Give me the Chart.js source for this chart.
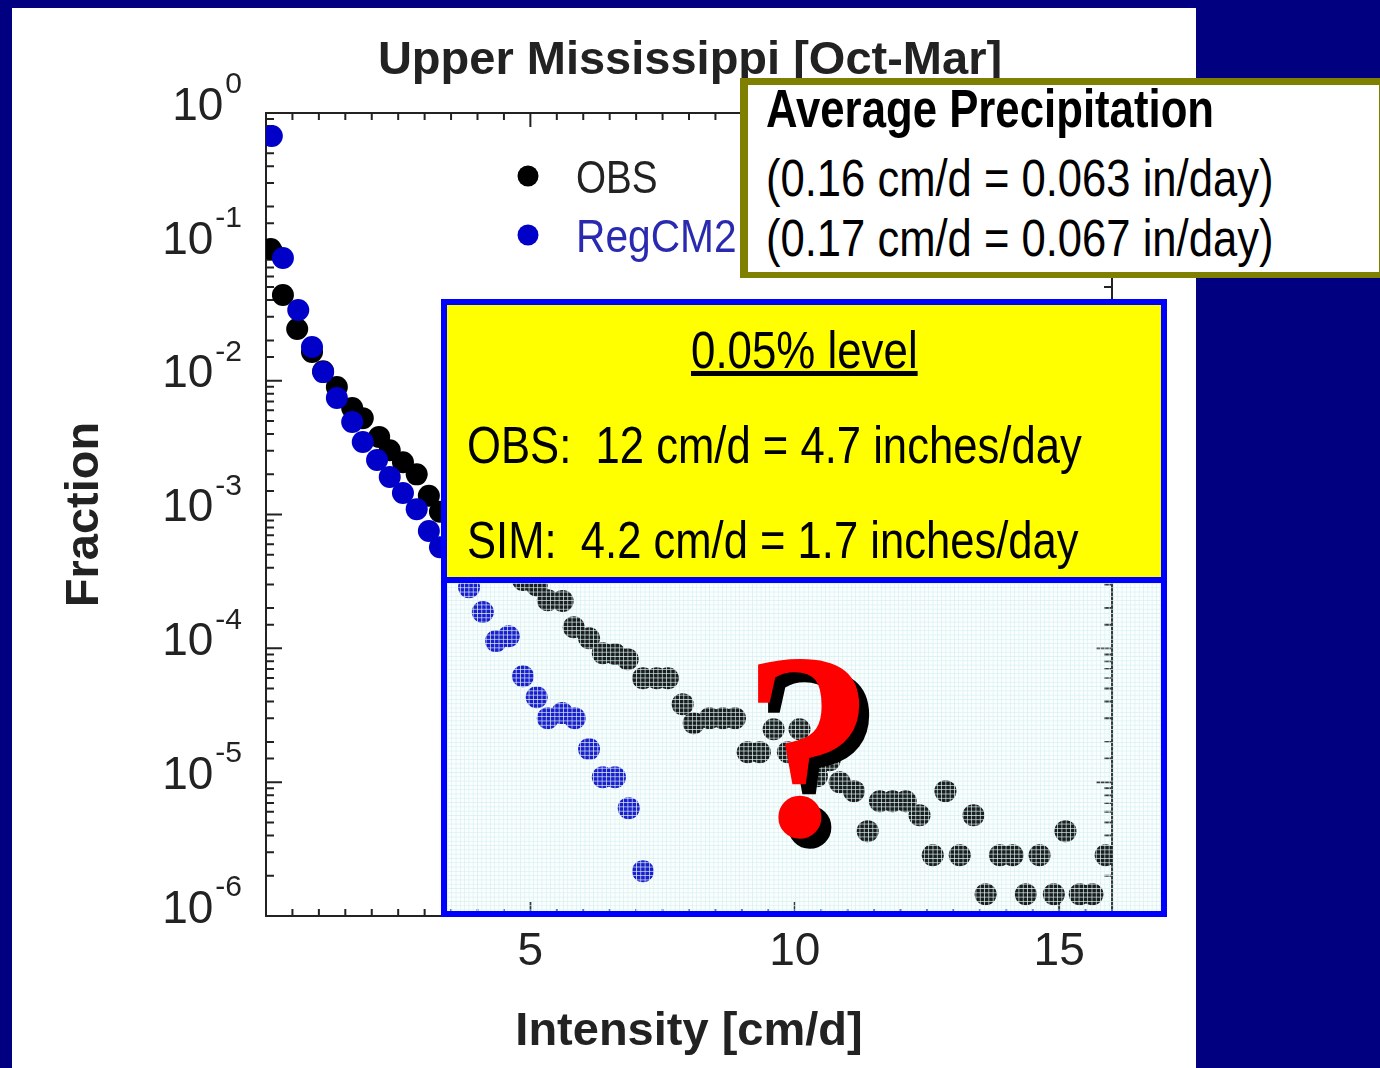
<!DOCTYPE html>
<html>
<head>
<meta charset="utf-8">
<title>Upper Mississippi [Oct-Mar]</title>
<script src="https://cdn.jsdelivr.net/npm/chart.js@4"></script>
<style>
  html, body { margin: 0; padding: 0; width: 1380px; height: 1068px; overflow: hidden; background: #000080; }
  #sheet { position: absolute; left: 12px; top: 8px; width: 1184px; height: 1060px; background: #fff; }
  #plot { position: absolute; left: 0; top: 0; filter: blur(0.6px); }
  .box { position: absolute; box-sizing: border-box; }
  .line { position: absolute; white-space: pre; color: #000; font-family: "Liberation Sans", sans-serif; line-height: 1; transform-origin: left top; }

  #avgBox { left: 740px; top: 78px; width: 640px; height: 200px; background: #fff; border: solid #808000; border-width: 7px 1px 6px 8px; }
  #levelBox { left: 441px; top: 299px; width: 726px; height: 284px; background: #ffff00; border: 6px solid #0000ff; }
  #shade {
    left: 447px; top: 583px; width: 714px; height: 328px;
    background-color: rgba(225, 245, 245, 0.12);
    background-image:
      linear-gradient(to right, rgba(215, 240, 240, 0.8) 1.2px, transparent 1.2px),
      linear-gradient(to bottom, rgba(215, 240, 240, 0.8) 1.2px, transparent 1.2px);
    background-size: 4.3px 4.3px;
    filter: blur(0.4px);
  }
  #shadeFrame { left: 441px; top: 577px; width: 726px; height: 340px; border: 6px solid #0000ff; }
  #query {
    position: absolute; left: 742px; top: 593px; color: #ff0000; line-height: 1;
    font: bold 266px "Liberation Serif", serif; text-shadow: 10px 10px 0 #000;
  }
</style>
</head>
<body>
<div id="sheet"></div>
<canvas id="plot" width="1380" height="1068"></canvas>

<div class="box" id="shade"></div>
<div class="box" id="shadeFrame"></div>
<div class="box" id="levelBox"></div>
<div class="box" id="avgBox"></div>

<div class="line" style="left:766px;top:81px;font-size:54px;font-weight:bold;transform:scaleX(0.81)">Average Precipitation</div>
<div class="line" style="left:766px;top:152px;font-size:52px;transform:scaleX(0.838)">(0.16 cm/d = 0.063 in/day)</div>
<div class="line" style="left:766px;top:212px;font-size:52px;transform:scaleX(0.838)">(0.17 cm/d = 0.067 in/day)</div>

<div class="line" style="left:691px;top:324px;font-size:52px;text-decoration:underline;transform:scaleX(0.843)">0.05% level</div>
<div class="line" style="left:467px;top:419px;font-size:52px;transform:scaleX(0.839)">OBS:  12 cm/d = 4.7 inches/day</div>
<div class="line" style="left:467px;top:514px;font-size:52px;transform:scaleX(0.838)">SIM:  4.2 cm/d = 1.7 inches/day</div>

<div id="query">?</div>

<script>
const chartTitle = "Upper Mississippi [Oct-Mar]";
const xTitle = "Intensity [cm/d]";
const yTitle = "Fraction";
const obsLabel = "OBS";
const simLabel = "RegCM2";
const xTickLabels = [5, 10, 15];

// intensity in cm/d, fraction as log10
const obsX = [0.09, 0.32, 0.59, 0.87, 1.08, 1.34, 1.63, 1.83, 2.14, 2.34, 2.59, 2.85, 3.08, 3.29, 3.57, 3.82,
  4.08, 4.33, 4.59, 4.86, 5.12, 5.33, 5.61, 5.82, 6.11, 6.37, 6.60, 6.84, 7.13, 7.39, 7.60, 7.88, 8.09, 8.39,
  8.64, 8.87, 9.11, 9.34, 9.60, 9.87, 10.09, 10.42, 10.66, 10.85, 11.12, 11.38, 11.61, 11.85, 12.10, 12.36,
  12.61, 12.85, 13.12, 13.38, 13.61, 13.88, 14.12, 14.37, 14.63, 14.90, 15.12, 15.39, 15.63, 15.88];
const obsLog = [-1.016, -1.36, -1.614, -1.786, -1.93, -2.048, -2.205, -2.28, -2.42, -2.52, -2.61, -2.70, -2.86, -2.98, -3.08, -3.18,
  -3.25, -3.34, -3.42, -3.49, -3.53, -3.64, -3.647, -3.842, -3.924, -4.036, -4.043, -4.081, -4.223, -4.223, -4.223, -4.417, -4.559, -4.522,
  -4.522, -4.522, -4.776, -4.776, -4.604, -4.776, -4.604, -4.955, -4.836, -5.0, -5.067, -5.366, -5.142, -5.142, -5.142, -5.247,
  -5.546, -5.067, -5.546, -5.247, -5.837, -5.546, -5.546, -5.837, -5.546, -5.837, -5.366, -5.837, -5.837, -5.546];

const simX = [0.11, 0.32, 0.61, 0.87, 1.08, 1.34, 1.63, 1.83, 2.10, 2.34, 2.59, 2.85, 3.08, 3.29, 3.57, 3.84,
  4.10, 4.35, 4.59, 4.86, 5.12, 5.33, 5.60, 5.84, 6.11, 6.37, 6.60, 6.86, 7.13];
const simLog = [-0.172, -1.084, -1.472, -1.749, -1.936, -2.13, -2.309, -2.459, -2.593, -2.72, -2.84, -2.96, -3.124, -3.244, -3.393, -3.543,
  -3.729, -3.946, -3.909, -4.208, -4.365, -4.522, -4.484, -4.522, -4.753, -4.963, -4.963, -5.194, -5.665];

const toPoints = (xs, logs) => xs.map((x, i) => ({ x: x, y: Math.pow(10, logs[i]) }));
const isDecade = v => Math.abs(Math.log10(v) - Math.round(Math.log10(v))) < 1e-6;
const sans = "'Liberation Sans', sans-serif";

// inward ticks on all four sides, y labels with exponents, legend in the plot
const axisDecor = {
  id: "axisDecor",
  beforeDatasetsDraw(chart) {
    const ctx = chart.ctx;
    const a = chart.chartArea;
    const sx = chart.scales.x;
    const sy = chart.scales.y;

    ctx.save();
    ctx.strokeStyle = "#222";
    ctx.lineWidth = 2;
    ctx.strokeRect(a.left, a.top, a.right - a.left, a.bottom - a.top);

    ctx.beginPath();
    sx.ticks.forEach(t => {
      const px = sx.getPixelForValue(t.value);
      const len = t.value % 5 === 0 ? 14 : 7;
      ctx.moveTo(px, a.top); ctx.lineTo(px, a.top + len);
      ctx.moveTo(px, a.bottom); ctx.lineTo(px, a.bottom - len);
    });
    sy.ticks.forEach(t => {
      const py = sy.getPixelForValue(t.value);
      const len = isDecade(t.value) ? 16 : 8;
      ctx.moveTo(a.left, py); ctx.lineTo(a.left + len, py);
      ctx.moveTo(a.right, py); ctx.lineTo(a.right - len, py);
    });
    ctx.stroke();

    // 10 with a small exponent, right edge at 242
    ctx.fillStyle = "#222";
    ctx.textBaseline = "middle";
    ctx.textAlign = "right";
    sy.ticks.filter(t => isDecade(t.value)).forEach(t => {
      const py = sy.getPixelForValue(t.value);
      const exp = String(Math.round(Math.log10(t.value)));
      ctx.font = "30px " + sans;
      ctx.fillText(exp, 242, py - 28);
      const w = ctx.measureText(exp).width;
      ctx.font = "46px " + sans;
      ctx.fillText("10", 242 - w - 2, py - 6);
    });

    // legend, text squeezed like the stretched original
    ctx.textAlign = "left";
    ctx.font = "46px " + sans;
    [[obsLabel, "#000", "#222", 177, 0.84], [simLabel, "#0000c8", "#2a2ab0", 236, 0.885]].forEach(row => {
      ctx.fillStyle = row[1];
      ctx.beginPath();
      ctx.arc(528, row[3] - 1, 10.5, 0, Math.PI * 2);
      ctx.fill();
      ctx.save();
      ctx.translate(576, row[3] + 3);
      ctx.scale(row[4], 1);
      ctx.fillStyle = row[2];
      ctx.fillText(row[0], 0, 0);
      ctx.restore();
    });
    ctx.restore();
  }
};

new Chart(document.getElementById("plot"), {
  type: "scatter",
  data: {
    datasets: [
      { label: obsLabel, data: toPoints(obsX, obsLog), backgroundColor: "#000", borderWidth: 0, pointRadius: 11, order: 2 },
      { label: simLabel, data: toPoints(simX, simLog), backgroundColor: "#0000c8", borderWidth: 0, pointRadius: 11, order: 1 }
    ]
  },
  plugins: [axisDecor],
  options: {
    responsive: false,
    animation: false,
    plugins: {
      legend: { display: false },
      tooltip: { enabled: false },
      title: {
        display: true,
        text: chartTitle,
        color: "#222",
        font: { family: sans, size: 47, weight: "bold", lineHeight: 1 },
        padding: { top: 38, bottom: 28 }
      }
    },
    scales: {
      x: {
        type: "linear",
        min: 0,
        max: 16,
        grid: { display: false, drawTicks: false },
        border: { display: false },
        ticks: {
          stepSize: 0.5,
          autoSkip: false,
          maxRotation: 0,
          padding: 9,
          color: "#222",
          font: { family: sans, size: 46 },
          callback: v => xTickLabels.includes(v) ? String(v) : ""
        },
        title: {
          display: true,
          text: xTitle,
          color: "#222",
          font: { family: sans, size: 47, weight: "bold", lineHeight: 1 },
          padding: { top: 0, bottom: 12 }
        },
        afterFit: s => { s.height = 152; }
      },
      y: {
        type: "logarithmic",
        min: 1e-6,
        max: 1,
        grid: { display: false, drawTicks: false },
        border: { display: false },
        ticks: { display: false },
        title: {
          display: true,
          text: yTitle,
          color: "#222",
          font: { family: sans, size: 47, weight: "bold", lineHeight: 1 },
          padding: { top: 62, bottom: 0 }
        },
        afterFit: s => { s.width = 266; }
      },
      // empty scale on the right, only holds the margin so the title stays centred on the page
      yMargin: {
        position: "right",
        min: 0,
        max: 1,
        grid: { display: false, drawTicks: false },
        border: { display: false },
        ticks: { display: false },
        afterFit: s => { s.width = 268; }
      }
    }
  }
});
</script>
</body>
</html>
